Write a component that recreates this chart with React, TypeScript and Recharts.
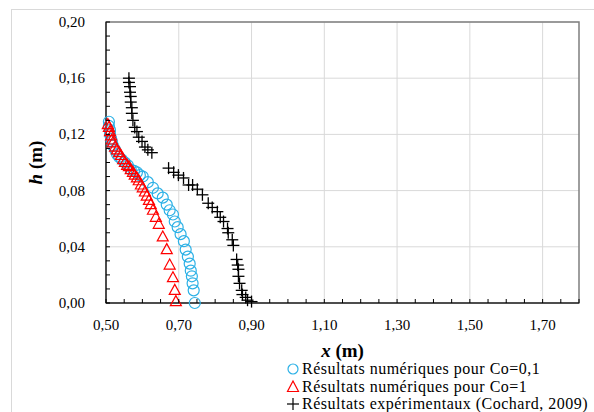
import { ScatterChart, Scatter, XAxis, YAxis, CartesianGrid, ReferenceArea, Label } from 'recharts';

// Résultats numériques pour Co=0,1
const xCo01 = [0.508, 0.508, 0.511, 0.511, 0.514, 0.516, 0.519, 0.525, 0.530, 0.536, 0.544, 0.552, 0.560, 0.568, 0.577, 0.585, 0.593, 0.601, 0.615, 0.629, 0.642, 0.656, 0.667, 0.675, 0.684, 0.689, 0.697, 0.705, 0.714, 0.719, 0.725, 0.730, 0.733, 0.736, 0.738, 0.741, 0.744];
const hCo01 = [0.129, 0.126, 0.123, 0.120, 0.117, 0.115, 0.112, 0.109, 0.106, 0.104, 0.102, 0.100, 0.098, 0.095, 0.094, 0.093, 0.091, 0.090, 0.086, 0.082, 0.078, 0.075, 0.070, 0.066, 0.063, 0.058, 0.054, 0.049, 0.044, 0.038, 0.033, 0.028, 0.023, 0.019, 0.014, 0.009, 0.000];

// Résultats numériques pour Co=1
const xCo1 = [0.505, 0.508, 0.511, 0.514, 0.516, 0.519, 0.525, 0.530, 0.536, 0.541, 0.547, 0.552, 0.558, 0.563, 0.568, 0.574, 0.579, 0.585, 0.590, 0.596, 0.601, 0.607, 0.612, 0.618, 0.623, 0.629, 0.637, 0.645, 0.656, 0.667, 0.675, 0.684, 0.689, 0.692];
const hCo1 = [0.127, 0.125, 0.122, 0.119, 0.116, 0.114, 0.111, 0.109, 0.107, 0.105, 0.102, 0.100, 0.098, 0.097, 0.095, 0.093, 0.091, 0.089, 0.087, 0.084, 0.082, 0.079, 0.076, 0.073, 0.070, 0.066, 0.061, 0.056, 0.047, 0.038, 0.027, 0.018, 0.009, 0.001];

// Résultats expérimentaux (Cochard, 2009)
const xExp = [0.563, 0.563, 0.566, 0.566, 0.568, 0.568, 0.571, 0.571, 0.574, 0.579, 0.585, 0.590, 0.599, 0.607, 0.615, 0.626,
  0.672, 0.686, 0.699, 0.713, 0.727, 0.738, 0.751, 0.765, 0.781, 0.792, 0.806, 0.814, 0.823, 0.834, 0.836, 0.847, 0.850,
  0.859, 0.862, 0.864, 0.864, 0.867, 0.873, 0.875, 0.884, 0.889, 0.900];
const hExp = [0.160, 0.157, 0.154, 0.150, 0.147, 0.143, 0.139, 0.135, 0.130, 0.125, 0.122, 0.118, 0.115, 0.111, 0.109, 0.107,
  0.096, 0.093, 0.091, 0.089, 0.084, 0.084, 0.081, 0.077, 0.071, 0.068, 0.065, 0.061, 0.058, 0.053, 0.050, 0.045, 0.041,
  0.031, 0.027, 0.024, 0.019, 0.014, 0.009, 0.006, 0.004, 0.002, 0.001];

const xMajor = [0.5, 0.7, 0.9, 1.1, 1.3, 1.5, 1.7];
const yMajor = [0, 0.04, 0.08, 0.12, 0.16, 0.2];

const legendLabels = [
  'Résultats numériques pour Co=0,1',
  'Résultats numériques pour Co=1',
  'Résultats expérimentaux (Cochard, 2009)',
];

const serif = "'Liberation Serif', 'DejaVu Serif', 'Times New Roman', serif";

const co01 = xCo01.map((x, i) => ({ x, h: hCo01[i] }));
const co1 = xCo1.map((x, i) => ({ x, h: hCo1[i] }));
const exp = xExp.map((x, i) => ({ x, h: hExp[i] }));

// minor ticks every 0.05 on x, 0.01 on y
const xTicks: number[] = [];
for (let i = 0; i <= 26; i++) xTicks.push(Math.round((0.5 + i * 0.05) * 100) / 100);
const yTicks: number[] = [];
for (let i = 0; i <= 20; i++) yTicks.push(Math.round(i * 0.01 * 100) / 100);

const isMajor = (v: number, list: number[]) => list.some((m) => Math.abs(m - v) < 1e-6);
const fmt = (v: number) => v.toFixed(2).replace('.', ',');

const XTick = (props: any) => {
  const { x, y, payload } = props;
  return (
    <g>
      <line x1={x} y1={y} x2={x} y2={y - 4} stroke="#000" />
      {isMajor(payload.value, xMajor) && (
        <text x={x} y={y + 27} textAnchor="middle" style={{ fontFamily: serif, fontSize: 15 }} fill="#000">
          {fmt(payload.value)}
        </text>
      )}
    </g>
  );
};

const YTick = (props: any) => {
  const { x, y, payload } = props;
  return (
    <g>
      <line x1={x} y1={y} x2={x + 4} y2={y} stroke="#000" />
      {isMajor(payload.value, yMajor) && (
        <text x={x - 21} y={y + 5} textAnchor="end" style={{ fontFamily: serif, fontSize: 15 }} fill="#000">
          {fmt(payload.value)}
        </text>
      )}
    </g>
  );
};

const Circle = (props: any) => (
  <circle cx={props.cx} cy={props.cy} r={5.5} fill="none" stroke="#2CB1E6" strokeWidth={1.2} />
);

const Triangle = (props: any) => {
  const { cx, cy } = props;
  return (
    <polygon
      points={`${cx},${cy - 6} ${cx - 5.5},${cy + 4} ${cx + 5.5},${cy + 4}`}
      fill="none"
      stroke="#FF0000"
      strokeWidth={1.2}
    />
  );
};

const Plus = (props: any) => {
  const { cx, cy } = props;
  return (
    <g stroke="#000" strokeWidth={1.3}>
      <line x1={cx - 6} y1={cy} x2={cx + 6} y2={cy} />
      <line x1={cx} y1={cy - 6} x2={cx} y2={cy + 6} />
    </g>
  );
};

const legendMarks = [
  <circle key="c" cx={7} cy={9} r={5} fill="none" stroke="#2CB1E6" strokeWidth={1.2} />,
  <polygon key="t" points="7,3 1.5,13.5 12.5,13.5" fill="none" stroke="#FF0000" strokeWidth={1.2} />,
  <g key="p" stroke="#000" strokeWidth={1.2}>
    <line x1={1} y1={9} x2={13} y2={9} />
    <line x1={7} y1={3} x2={7} y2={15} />
  </g>,
];

export default function App() {
  return (
    <div style={{ position: 'absolute', left: 0, top: 0, width: 594, height: 412, overflow: 'hidden', background: '#fff' }}>
      <div style={{ position: 'absolute', left: 11, top: 9, width: 620, height: 440, border: '1px solid #d9d9d9' }} />
      <div style={{ position: 'absolute', left: 0, top: 0 }}>
        <ScatterChart width={594} height={412} margin={{ top: 22, right: 15, bottom: 79, left: 0 }}>
          <CartesianGrid stroke="#d9d9d9" verticalValues={xMajor} horizontalValues={yMajor} />
          <ReferenceArea x1={0.5} x2={1.8} y1={0} y2={0.2} fill="none" stroke="#7f7f7f" strokeWidth={1.5} />
          <XAxis
            type="number"
            dataKey="x"
            domain={[0.5, 1.8]}
            ticks={xTicks}
            interval={0}
            height={30}
            tickSize={0}
            tickMargin={0}
            tickLine={false}
            tick={<XTick />}
            axisLine={{ stroke: '#000' }}
          >
            <Label
              content={({ viewBox }: any) => (
                <text x={viewBox.x + viewBox.width / 2} y={viewBox.y + 54} textAnchor="middle" style={{ fontFamily: serif, fontSize: 19, fontWeight: 'bold' }} fill="#000">
                  <tspan fontStyle="italic">x</tspan> (m)
                </text>
              )}
            />
          </XAxis>
          <YAxis
            type="number"
            dataKey="h"
            domain={[0, 0.2]}
            ticks={yTicks}
            interval={0}
            width={106}
            tickSize={0}
            tickMargin={0}
            tickLine={false}
            tick={<YTick />}
            axisLine={{ stroke: '#000' }}
          >
            <Label
              content={({ viewBox }: any) => {
                const cx = 42;
                const cy = viewBox.y + viewBox.height / 2;
                return (
                  <text x={cx} y={cy} transform={`rotate(-90 ${cx} ${cy})`} textAnchor="middle" style={{ fontFamily: serif, fontSize: 19, fontWeight: 'bold' }} fill="#000">
                    <tspan fontStyle="italic">h</tspan> (m)
                  </text>
                );
              }}
            />
          </YAxis>
          <Scatter data={co01} shape={<Circle />} isAnimationActive={false} />
          <Scatter data={co1} shape={<Triangle />} isAnimationActive={false} />
          <Scatter data={exp} shape={<Plus />} isAnimationActive={false} />
        </ScatterChart>
      </div>
      <div style={{ position: 'absolute', left: 286, top: 360, fontFamily: serif, fontSize: 16, lineHeight: '17.5px', color: '#000', whiteSpace: 'nowrap' }}>
        {legendLabels.map((t, i) => (
          <div key={t} style={{ display: 'flex', alignItems: 'center', height: 17.5 }}>
            <svg width={14} height={17} style={{ marginRight: 2 }}>
              {legendMarks[i]}
            </svg>
            <span style={{ letterSpacing: 0.5 }}>{t}</span>
          </div>
        ))}
      </div>
    </div>
  );
}
